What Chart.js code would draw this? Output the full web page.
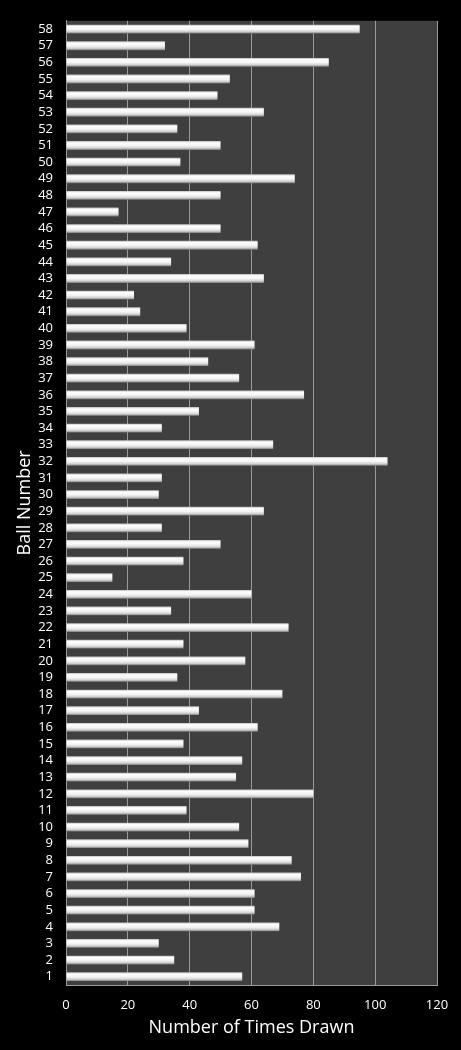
<!DOCTYPE html>
<html>
<head>
<meta charset="utf-8">
<script src="https://cdn.jsdelivr.net/npm/chart.js@4/dist/chart.umd.min.js"></script>
<style>
  html, body { margin: 0; padding: 0; background: #000; }
  #wrap { width: 461px; height: 1050px; }
</style>
</head>
<body>
<div id="wrap"><canvas id="ballChart"></canvas></div>
<script>
// Ball numbers 1..58 (bottom to top in the picture)
const balls = ['1','2','3','4','5','6','7','8','9','10','11','12','13','14','15','16','17','18','19','20',
  '21','22','23','24','25','26','27','28','29','30','31','32','33','34','35','36','37','38','39','40',
  '41','42','43','44','45','46','47','48','49','50','51','52','53','54','55','56','57','58'];

// Number of times each ball was drawn
const timesDrawn = [57, 35, 30, 69, 61, 61, 76, 73, 59, 56, 39, 80, 55, 57, 38, 62, 43, 70, 36, 58,
  38, 72, 34, 60, 15, 38, 50, 31, 64, 30, 31, 104, 67, 31, 43, 77, 56, 46, 61, 39,
  24, 22, 64, 34, 62, 50, 17, 50, 74, 37, 50, 36, 64, 49, 53, 85, 32, 95];

const xTicks = [0, 20, 40, 60, 80, 100, 120];

const FONT = "'Open Sans', 'DejaVu Sans', sans-serif";
const BAR_PCT = 0.53;

// grey plot area behind the bars
const plotBg = {
    id: 'plotBg',
    beforeDraw(chart) {
        const { ctx, chartArea: a } = chart;
        ctx.save();
        ctx.fillStyle = '#3f3f3f';
        ctx.fillRect(a.left, a.top, a.right - a.left, a.bottom - a.top);
        ctx.restore();
    }
};

// shiny white bar, shaded along its thickness
const barFill = (context) => {
    const chart = context.chart;
    const yScale = chart.scales.y;
    if (!yScale || context.dataIndex === undefined) return '#f0f0f0';
    const yc = yScale.getPixelForValue(context.dataIndex);
    const half = (yScale.height / balls.length) * BAR_PCT / 2;
    if (!isFinite(yc) || !isFinite(half) || half <= 0) return '#f0f0f0';
    const g = chart.ctx.createLinearGradient(0, yc - half, 0, yc + half);
    g.addColorStop(0, '#bdbdbd');
    g.addColorStop(0.2, '#ffffff');
    g.addColorStop(0.55, '#f2f2f2');
    g.addColorStop(0.8, '#cfcfcf');
    g.addColorStop(1, '#7a7a7a');
    return g;
};

const ctx = document.getElementById('ballChart').getContext('2d');
const ballChart = new Chart(ctx, {
    type: 'bar',
    data: {
        labels: balls,
        datasets: [{
            label: 'Number of Times Drawn',
            data: timesDrawn,
            backgroundColor: barFill,
            borderWidth: 0,
            categoryPercentage: 1,
            barPercentage: BAR_PCT
        }]
    },
    options: {
        indexAxis: 'y',
        responsive: true,
        maintainAspectRatio: false,
        animation: false,
        layout: { padding: { left: 0, right: 24, top: 18, bottom: 0 } },
        plugins: {
            legend: { display: false },
            tooltip: { enabled: false }
        },
        scales: {
            x: {
                min: 0,
                max: 120,
                afterBuildTicks: (scale) => { scale.ticks = xTicks.map(v => ({ value: v })); },
                afterFit: (scale) => { scale.height = 65; },
                grid: { color: '#9a9a9a', lineWidth: 1, drawTicks: false },
                border: { color: '#9a9a9a', width: 1 },
                ticks: {
                    color: '#ffffff',
                    padding: 12,
                    maxRotation: 0,
                    font: { family: FONT, size: 13 }
                },
                title: {
                    display: true,
                    text: 'Number of Times Drawn',
                    color: '#ffffff',
                    font: { family: FONT, size: 18 },
                    padding: { top: 0, bottom: 11 }
                }
            },
            y: {
                reverse: true,
                afterFit: (scale) => { scale.width = 66; },
                grid: { display: false, drawTicks: false },
                border: { color: '#9a9a9a', width: 1 },
                ticks: {
                    color: '#ffffff',
                    padding: 13,
                    autoSkip: false,
                    font: { family: FONT, size: 13 }
                },
                title: {
                    display: true,
                    text: 'Ball Number',
                    color: '#ffffff',
                    font: { family: FONT, size: 18 },
                    padding: { top: 14, bottom: 0 }
                }
            }
        }
    },
    plugins: [plotBg]
});
</script>
</body>
</html>
